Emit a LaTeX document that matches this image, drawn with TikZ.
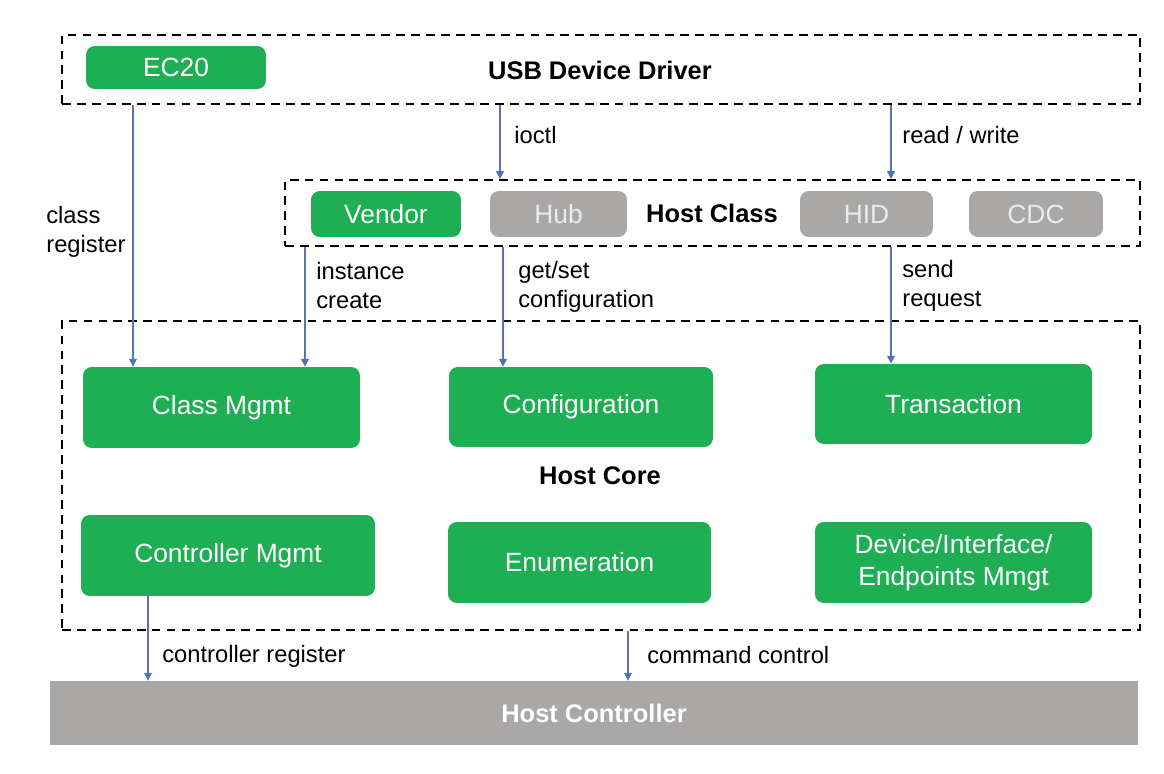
\documentclass[tikz,border=0pt]{standalone}
\usepackage{fontspec}
\setmainfont{Liberation Sans}
\usetikzlibrary{arrows.meta}

\definecolor{boxgreen}{RGB}{30,175,85}
\definecolor{boxgray}{RGB}{170,167,167}
\definecolor{flowblue}{RGB}{68,114,196}

\tikzset{
  layerbox/.style={draw, dash pattern=on 5pt off 3.5pt, line width=1.1pt, inner sep=0pt},
  module/.style={fill=boxgreen, text=white, rounded corners=5pt, align=center,
    font=\fontsize{15}{18}\selectfont, inner sep=0pt},
  graybox/.style={module, fill=boxgray, text=white!92!black},
  title/.style={font=\bfseries\fontsize{14.5}{17}\selectfont},
  flow/.style={draw=flowblue!75!gray, line width=0.6pt,
    -{Triangle[length=4.5pt,width=4.5pt,fill=flowblue]}},
  flowtext/.style={anchor=west, align=left, font=\fontsize{13.5}{16.5}\selectfont, inner sep=0pt},
}

\begin{document}
\begin{tikzpicture}[x=0.02cm,y=-0.02cm]
   \useasboundingbox (0,0) rectangle (1164,774);

   % USB device driver layer
   \node[layerbox, minimum width=21.56cm, minimum height=1.38cm] (usbdrv) at (601,69.5) {};
   \node[title] (usbtitle) at (600,70) {USB Device Driver};
   \node[module, minimum width=3.6cm, minimum height=0.86cm] (ec20) at (176,67.5) {EC20};

   % Host class layer
   \node[layerbox, minimum width=17.1cm, minimum height=1.32cm] (hostclass) at (712.5,213) {};
   \node[title] (classtitle) at (712,213) {Host Class};
   \node[module, minimum width=3cm, minimum height=0.92cm] (vendor) at (386,214) {Vendor};
   \foreach \n/\x/\w/\t in {hub/558.5/2.74/Hub, hid/866.5/2.66/HID, cdc/1036/2.68/CDC} {
       \node[graybox, minimum width=\w cm, minimum height=0.92cm] (\n) at (\x,214) {\t};
   }

   % Host core layer
   \node[layerbox, minimum width=21.56cm, minimum height=6.18cm] (hostcore) at (601,475.5) {};
   \node[title] (coretitle) at (600,476) {Host Core};
   \node[module, minimum width=5.54cm, minimum height=1.62cm] (classmgmt) at (221.5,407.5) {Class Mgmt};
   \node[module, minimum width=5.28cm, minimum height=1.6cm] (config) at (581,407) {Configuration};
   \node[module, minimum width=5.54cm, minimum height=1.6cm] (transaction) at (953.5,404) {Transaction};
   \node[module, minimum width=5.88cm, minimum height=1.62cm] (ctrlmgmt) at (228,555.5) {Controller Mgmt};
   \node[module, minimum width=5.26cm, minimum height=1.62cm] (enum) at (579.5,562.5) {Enumeration};
   \node[module, minimum width=5.54cm, minimum height=1.62cm] (devmgmt) at (953.5,562.5) {Device/Interface/\\Endpoints Mmgt};

   % Host controller
   \node[fill=boxgray, text=white, title, minimum width=21.76cm, minimum height=1.28cm, inner sep=0pt]
       (hostctrl) at (594,713) {Host Controller};

   % Calls between the layers
   \draw[flow] (usbdrv.south -| 133,0) -- (classmgmt.north -| 133,0);
   \draw[flow] (usbdrv.south -| 500,0) -- (hostclass.north -| 500,0);
   \draw[flow] (usbdrv.south -| 891,0) -- (hostclass.north -| 891,0);
   \draw[flow] (hostclass.south -| 305,0) -- (classmgmt.north -| 305,0);
   \draw[flow] (hostclass.south -| 503,0) -- (config.north -| 503,0);
   \draw[flow] (hostclass.south -| 891,0) -- (transaction.north -| 891,0);
   \draw[flow] (ctrlmgmt.south -| 148,0) -- (hostctrl.north -| 148,0);
   \draw[flow] (hostcore.south -| 628,0) -- (hostctrl.north -| 628,0);

   \node[flowtext] (classreg) at (46,232) {class\\register};
   \node[flowtext] (ioctl) at (514,135) {ioctl};
   \node[flowtext] (rw) at (902,135) {read / write};
   \node[flowtext] (inst) at (316,286) {instance\\create};
   \node[flowtext] (getset) at (518,287) {get/set\\configuration};
   \node[flowtext] (sendreq) at (902,286) {send\\request};
   \node[flowtext] (ctrlreg) at (162,656) {controller register};
   \node[flowtext] (cmdctrl) at (647,655) {command control};
\end{tikzpicture}
\end{document}
